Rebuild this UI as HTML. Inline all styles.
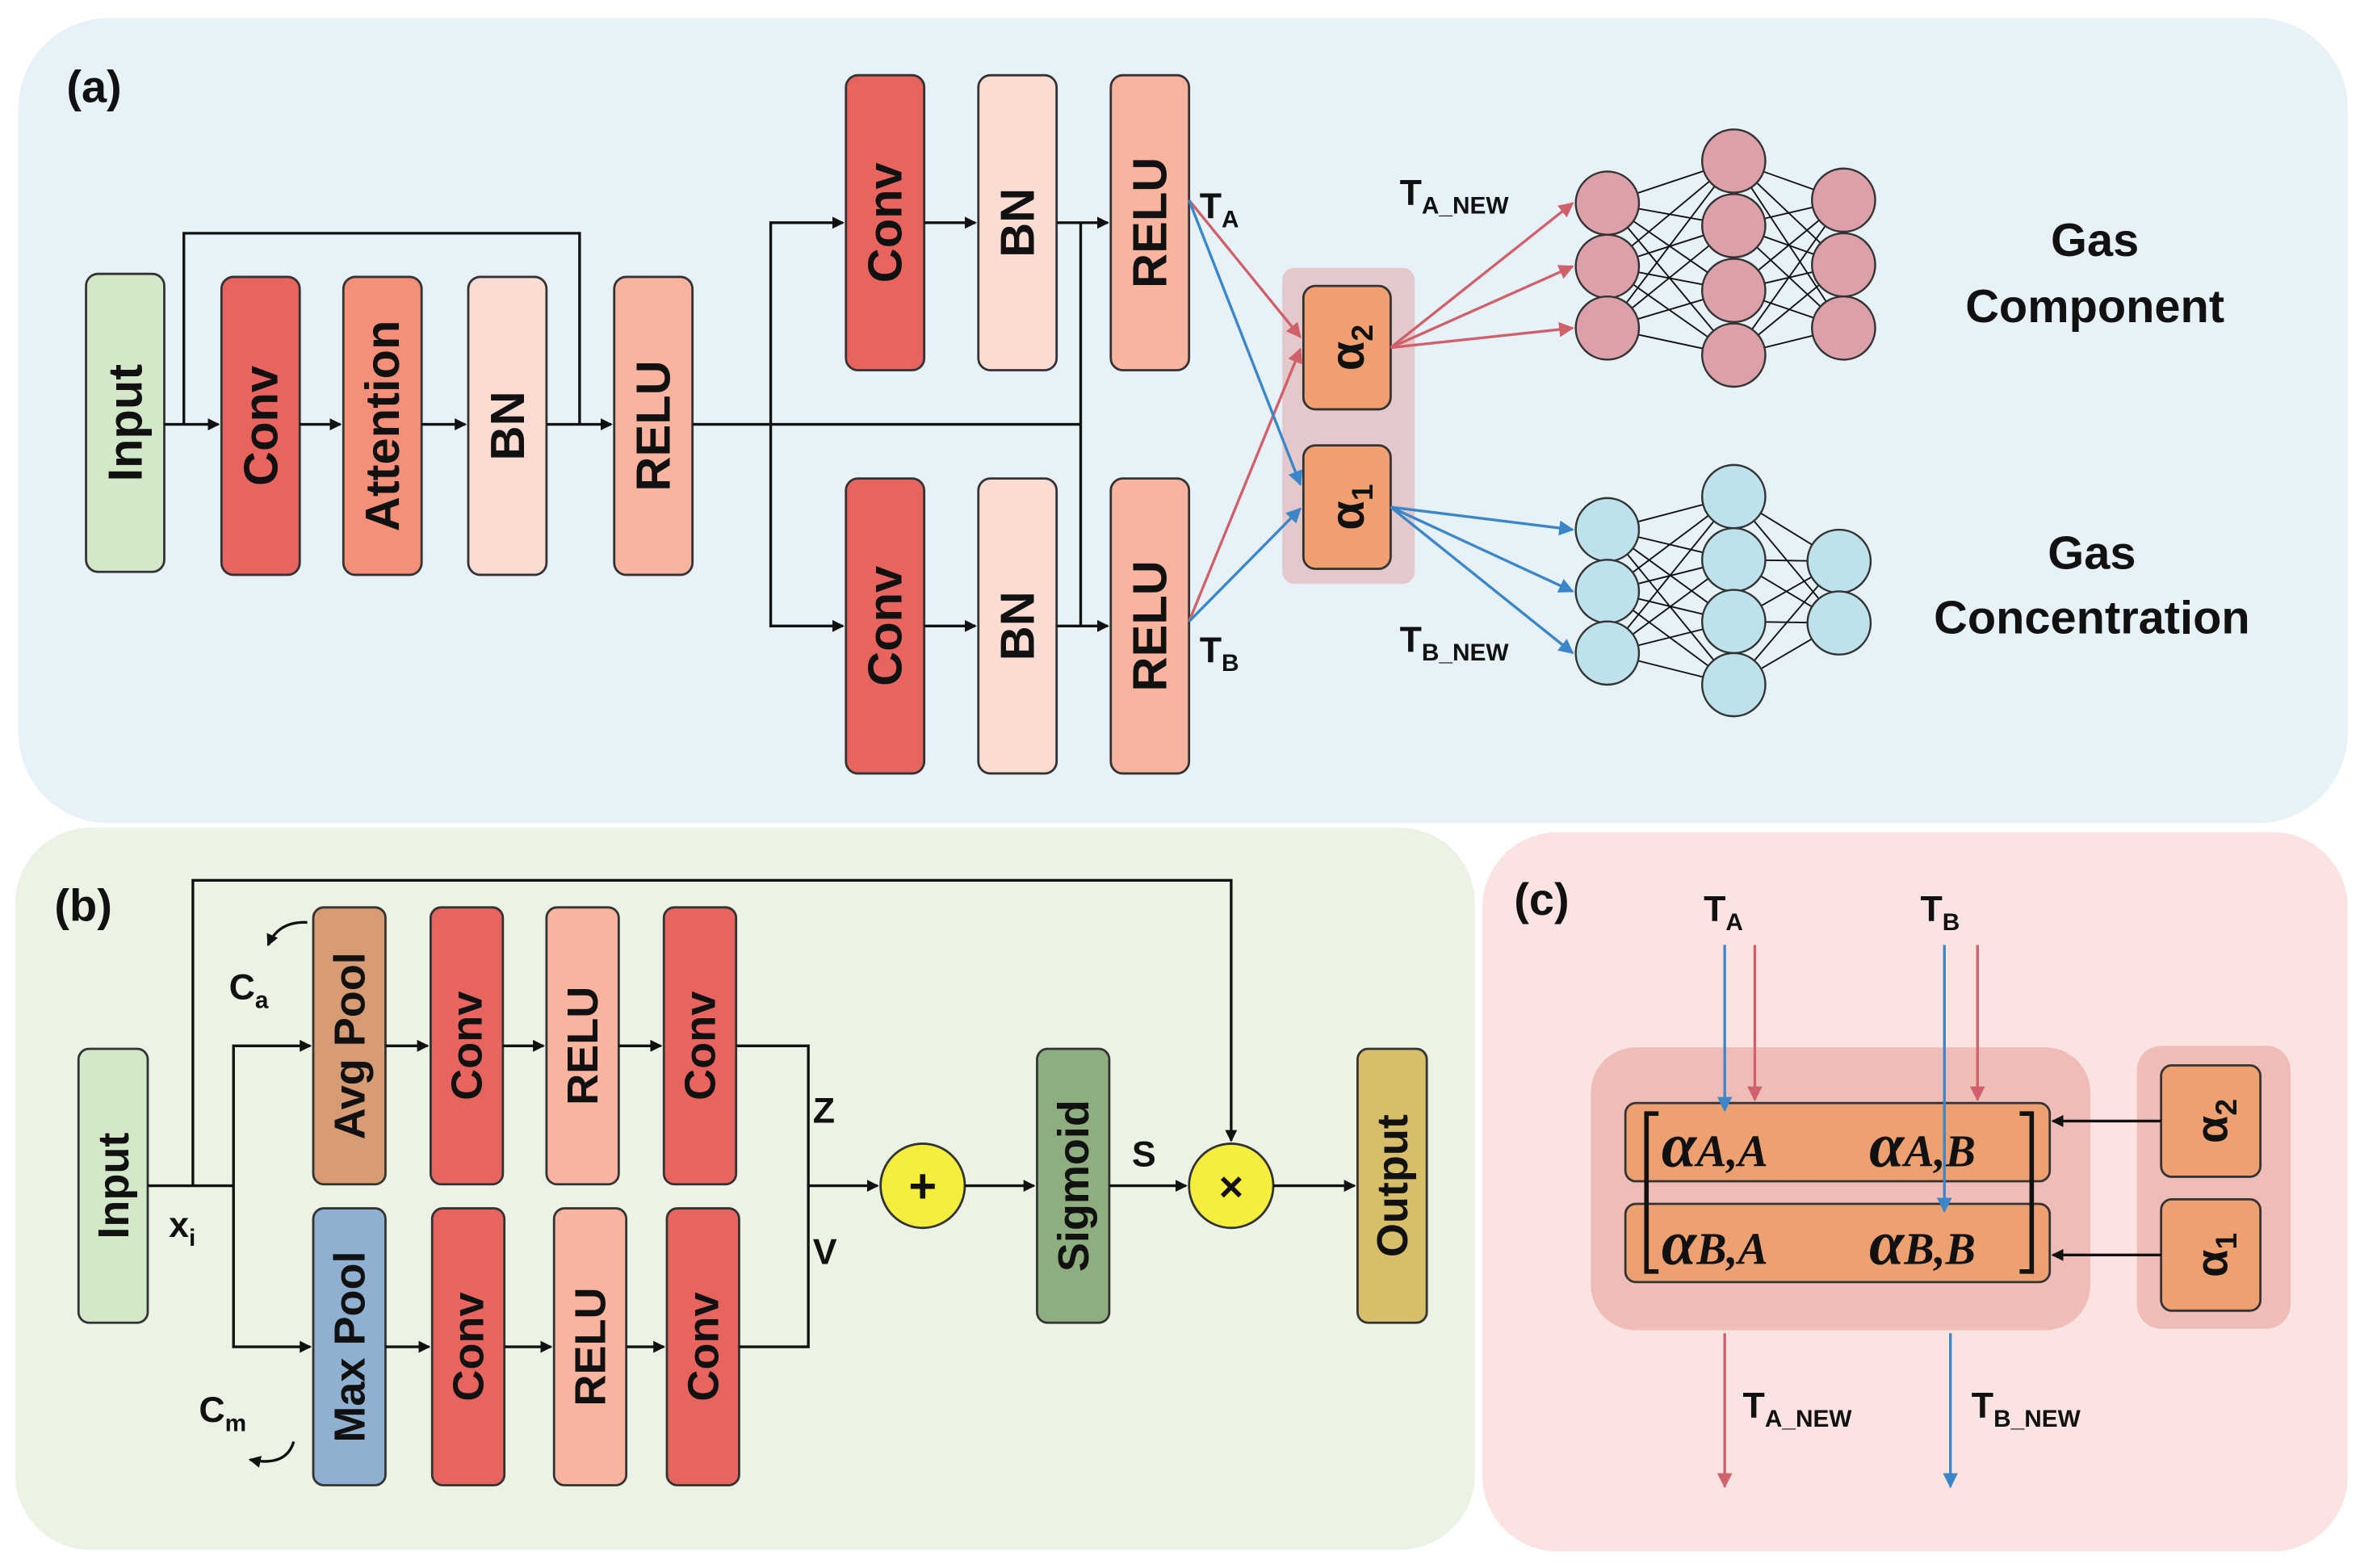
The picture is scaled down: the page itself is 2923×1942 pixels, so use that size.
<!DOCTYPE html>
<html><head><meta charset="utf-8"><style>html,body{margin:0;padding:0;background:#fff}svg{display:block}</style></head>
<body>
<svg width="2923" height="1942" viewBox="0 0 1568 1042" xmlns="http://www.w3.org/2000/svg" font-family="Liberation Sans, sans-serif">
<defs>
<marker id="ak" markerWidth="8" markerHeight="8" refX="7" refY="4" orient="auto" markerUnits="userSpaceOnUse"><path d="M0,0 L8,4 L0,8 z" fill="#111"/></marker>
<marker id="ar" markerWidth="10" markerHeight="10" refX="9" refY="5" orient="auto" markerUnits="userSpaceOnUse"><path d="M0,0 L10,5 L0,10 z" fill="#d0606a"/></marker>
<marker id="ab" markerWidth="10" markerHeight="10" refX="9" refY="5" orient="auto" markerUnits="userSpaceOnUse"><path d="M0,0 L10,5 L0,10 z" fill="#3a86c8"/></marker>
</defs>
<rect x="12" y="12" width="1548" height="535" rx="60" fill="#e6f1f8"/>
<rect x="10" y="550" width="970" height="480" rx="50" fill="#edf3e4"/>
<rect x="985" y="553" width="575" height="478" rx="50" fill="#fbe3e1"/>
<g font-weight="bold" font-size="30" fill="#111">
<text x="44" y="68">(a)</text><text x="36" y="612">(b)</text><text x="1006" y="608">(c)</text>
</g>
<g stroke="#333" stroke-width="1.5">
<rect x="57" y="182" width="52" height="198" rx="8" fill="#d3e7c9"/>
<rect x="147" y="184" width="52" height="198" rx="8" fill="#e8645f"/>
<rect x="228" y="184" width="52" height="198" rx="8" fill="#f4907a"/>
<rect x="311" y="184" width="52" height="198" rx="8" fill="#fbdcd2"/>
<rect x="408" y="184" width="52" height="198" rx="8" fill="#f9b4a0"/>
<rect x="562" y="50" width="52" height="196" rx="8" fill="#e8645f"/>
<rect x="650" y="50" width="52" height="196" rx="8" fill="#fbdcd2"/>
<rect x="738" y="50" width="52" height="196" rx="8" fill="#f9b4a0"/>
<rect x="562" y="318" width="52" height="196" rx="8" fill="#e8645f"/>
<rect x="650" y="318" width="52" height="196" rx="8" fill="#fbdcd2"/>
<rect x="738" y="318" width="52" height="196" rx="8" fill="#f9b4a0"/>
</g>
<rect x="852" y="178" width="88" height="210" rx="8" fill="#e3c9cb"/>
<rect x="866" y="190" width="58" height="82" rx="8" fill="#f0a070" stroke="#333" stroke-width="1.5"/>
<rect x="866" y="296" width="58" height="82" rx="8" fill="#f0a070" stroke="#333" stroke-width="1.5"/>
<g font-weight="bold" font-size="32" fill="#111" text-anchor="middle">
<text transform="translate(94,281) rotate(-90)">Input</text>
<text transform="translate(184,283) rotate(-90)">Conv</text>
<text transform="translate(265,283) rotate(-90)">Attention</text>
<text transform="translate(348,283) rotate(-90)">BN</text>
<text transform="translate(445,283) rotate(-90)">RELU</text>
<text transform="translate(599,148) rotate(-90)">Conv</text>
<text transform="translate(687,148) rotate(-90)">BN</text>
<text transform="translate(775,148) rotate(-90)">RELU</text>
<text transform="translate(599,416) rotate(-90)">Conv</text>
<text transform="translate(687,416) rotate(-90)">BN</text>
<text transform="translate(775,416) rotate(-90)">RELU</text>
<text transform="translate(906,231) rotate(-90)">α<tspan font-size="20" dy="6">2</tspan></text>
<text transform="translate(906,337) rotate(-90)">α<tspan font-size="20" dy="6">1</tspan></text>
</g>
<g stroke="#111" stroke-width="1.8" fill="none">
<line x1="109" y1="282" x2="145" y2="282" marker-end="url(#ak)"/>
<line x1="199" y1="282" x2="226" y2="282" marker-end="url(#ak)"/>
<line x1="280" y1="282" x2="309" y2="282" marker-end="url(#ak)"/>
<line x1="363" y1="282" x2="406" y2="282" marker-end="url(#ak)"/>
<polyline points="122,282 122,155 385,155 385,282"/>
<line x1="460" y1="282" x2="718" y2="282"/>
<polyline points="512,282 512,148 560,148" marker-end="url(#ak)"/>
<polyline points="512,282 512,416 560,416" marker-end="url(#ak)"/>
<line x1="614" y1="148" x2="648" y2="148" marker-end="url(#ak)"/>
<line x1="702" y1="148" x2="736" y2="148" marker-end="url(#ak)"/>
<line x1="614" y1="416" x2="648" y2="416" marker-end="url(#ak)"/>
<line x1="702" y1="416" x2="736" y2="416" marker-end="url(#ak)"/>
<polyline points="718,282 718,148"/><polyline points="718,282 718,416"/>
</g>
<g stroke-width="1.8" fill="none">
<line x1="790" y1="133" x2="864" y2="224" stroke="#d0606a" marker-end="url(#ar)"/>
<line x1="790" y1="413" x2="864" y2="232" stroke="#d0606a" marker-end="url(#ar)"/>
<line x1="790" y1="133" x2="864" y2="322" stroke="#3a86c8" marker-end="url(#ab)"/>
<line x1="790" y1="413" x2="864" y2="338" stroke="#3a86c8" marker-end="url(#ab)"/>
<line x1="924" y1="231" x2="1045" y2="135" stroke="#d0606a" marker-end="url(#ar)"/>
<line x1="924" y1="231" x2="1045" y2="177" stroke="#d0606a" marker-end="url(#ar)"/>
<line x1="924" y1="231" x2="1045" y2="218" stroke="#d0606a" marker-end="url(#ar)"/>
<line x1="924" y1="337" x2="1045" y2="352" stroke="#3a86c8" marker-end="url(#ab)"/>
<line x1="924" y1="337" x2="1045" y2="393" stroke="#3a86c8" marker-end="url(#ab)"/>
<line x1="924" y1="337" x2="1045" y2="434" stroke="#3a86c8" marker-end="url(#ab)"/>
</g>
<g font-weight="bold" font-size="24" fill="#111">
<text x="797" y="145">T<tspan font-size="16" dy="6">A</tspan></text>
<text x="797" y="440">T<tspan font-size="16" dy="6">B</tspan></text>
<text x="930" y="136">T<tspan font-size="16" dy="6">A_NEW</tspan></text>
<text x="930" y="433">T<tspan font-size="16" dy="6">B_NEW</tspan></text>
</g>
<g stroke="#111" stroke-width="1">
<path d="M1068,135L1152,107M1068,135L1152,150M1068,135L1152,193M1068,135L1152,236M1068,177L1152,107M1068,177L1152,150M1068,177L1152,193M1068,177L1152,236M1068,218L1152,107M1068,218L1152,150M1068,218L1152,193M1068,218L1152,236M1152,107L1225,133M1152,107L1225,176M1152,107L1225,218M1152,150L1225,133M1152,150L1225,176M1152,150L1225,218M1152,193L1225,133M1152,193L1225,176M1152,193L1225,218M1152,236L1225,133M1152,236L1225,176M1152,236L1225,218"/>
<path d="M1068,352L1152,330M1068,352L1152,372M1068,352L1152,413M1068,352L1152,455M1068,393L1152,330M1068,393L1152,372M1068,393L1152,413M1068,393L1152,455M1068,434L1152,330M1068,434L1152,372M1068,434L1152,413M1068,434L1152,455M1152,330L1222,373M1152,330L1222,414M1152,372L1222,373M1152,372L1222,414M1152,413L1222,373M1152,413L1222,414M1152,455L1222,373M1152,455L1222,414"/>
</g>
<g fill="#dba0a8" stroke="#333" stroke-width="1.3">
<circle cx="1068" cy="135" r="21"/><circle cx="1068" cy="177" r="21"/><circle cx="1068" cy="218" r="21"/>
<circle cx="1152" cy="107" r="21"/><circle cx="1152" cy="150" r="21"/><circle cx="1152" cy="193" r="21"/><circle cx="1152" cy="236" r="21"/>
<circle cx="1225" cy="133" r="21"/><circle cx="1225" cy="176" r="21"/><circle cx="1225" cy="218" r="21"/>
</g>
<g fill="#bde2ec" stroke="#333" stroke-width="1.3">
<circle cx="1068" cy="352" r="21"/><circle cx="1068" cy="393" r="21"/><circle cx="1068" cy="434" r="21"/>
<circle cx="1152" cy="330" r="21"/><circle cx="1152" cy="372" r="21"/><circle cx="1152" cy="413" r="21"/><circle cx="1152" cy="455" r="21"/>
<circle cx="1222" cy="373" r="21"/><circle cx="1222" cy="414" r="21"/>
</g>
<g font-weight="bold" font-size="31" fill="#111" text-anchor="middle">
<text x="1392" y="170">Gas</text><text x="1392" y="214">Component</text>
<text x="1390" y="378">Gas</text><text x="1390" y="421">Concentration</text>
</g>
<g stroke="#333" stroke-width="1.5">
<rect x="52" y="697" width="46" height="182" rx="7" fill="#d3e7c9"/>
<rect x="208" y="603" width="48" height="184" rx="7" fill="#d79c74"/>
<rect x="286" y="603" width="48" height="184" rx="7" fill="#e8645f"/>
<rect x="363" y="603" width="48" height="184" rx="7" fill="#f9b4a0"/>
<rect x="441" y="603" width="48" height="184" rx="7" fill="#e8645f"/>
<rect x="208" y="803" width="48" height="184" rx="7" fill="#8fb0d0"/>
<rect x="287" y="803" width="48" height="184" rx="7" fill="#e8645f"/>
<rect x="368" y="803" width="48" height="184" rx="7" fill="#f9b4a0"/>
<rect x="443" y="803" width="48" height="184" rx="7" fill="#e8645f"/>
<rect x="689" y="697" width="48" height="182" rx="7" fill="#8fae7f"/>
<rect x="902" y="697" width="46" height="182" rx="7" fill="#d6be6a"/>
<circle cx="613" cy="788" r="28" fill="#f5ee3c"/>
<circle cx="818" cy="788" r="28" fill="#f5ee3c"/>
</g>
<g font-weight="bold" font-size="29" fill="#111" text-anchor="middle">
<text transform="translate(85,788) rotate(-90)">Input</text>
<text transform="translate(242,695) rotate(-90)">Avg Pool</text>
<text transform="translate(320,695) rotate(-90)">Conv</text>
<text transform="translate(397,695) rotate(-90)">RELU</text>
<text transform="translate(475,695) rotate(-90)">Conv</text>
<text transform="translate(242,895) rotate(-90)">Max Pool</text>
<text transform="translate(321,895) rotate(-90)">Conv</text>
<text transform="translate(402,895) rotate(-90)">RELU</text>
<text transform="translate(477,895) rotate(-90)">Conv</text>
<text transform="translate(723,788) rotate(-90)">Sigmoid</text>
<text transform="translate(935,788) rotate(-90)">Output</text>
<text x="613" y="799" font-size="32">+</text>
<text x="818" y="798" font-size="28">×</text>
</g>
<g stroke="#111" stroke-width="1.8" fill="none">
<line x1="98" y1="788" x2="155" y2="788"/>
<polyline points="128,788 128,585 818,585 818,758" marker-end="url(#ak)"/>
<polyline points="155,788 155,695 206,695" marker-end="url(#ak)"/>
<polyline points="155,788 155,895 206,895" marker-end="url(#ak)"/>
<line x1="256" y1="695" x2="284" y2="695" marker-end="url(#ak)"/>
<line x1="334" y1="695" x2="361" y2="695" marker-end="url(#ak)"/>
<line x1="411" y1="695" x2="439" y2="695" marker-end="url(#ak)"/>
<line x1="256" y1="895" x2="285" y2="895" marker-end="url(#ak)"/>
<line x1="335" y1="895" x2="366" y2="895" marker-end="url(#ak)"/>
<line x1="416" y1="895" x2="441" y2="895" marker-end="url(#ak)"/>
<polyline points="489,695 537,695 537,895 491,895"/>
<line x1="537" y1="788" x2="583" y2="788" marker-end="url(#ak)"/>
<line x1="641" y1="788" x2="687" y2="788" marker-end="url(#ak)"/>
<line x1="737" y1="788" x2="788" y2="788" marker-end="url(#ak)"/>
<line x1="846" y1="788" x2="900" y2="788" marker-end="url(#ak)"/>
<path d="M204,613 Q185,612 178,628" marker-end="url(#ak)"/>
<path d="M195,958 Q190,975 166,970" marker-end="url(#ak)"/>
</g>
<g font-weight="bold" font-size="24" fill="#111">
<text x="112" y="822">x<tspan font-size="16" dy="6">i</tspan></text>
<text x="152" y="664">C<tspan font-size="16" dy="6">a</tspan></text>
<text x="132" y="945">C<tspan font-size="16" dy="6">m</tspan></text>
<text x="540" y="746">Z</text><text x="540" y="840">V</text><text x="752" y="775">S</text>
</g>
<rect x="1057" y="696" width="332" height="188" rx="30" fill="#f0bcb8"/>
<rect x="1420" y="695" width="102" height="188" rx="16" fill="#f0bcb8"/>
<g stroke="#333" stroke-width="1.5">
<rect x="1080" y="733" width="282" height="52" rx="7" fill="#eda070"/>
<rect x="1080" y="800" width="282" height="52" rx="7" fill="#eda070"/>
<rect x="1436" y="708" width="66" height="74" rx="7" fill="#eda070"/>
<rect x="1436" y="797" width="66" height="74" rx="7" fill="#eda070"/>
</g>
<g stroke="#111" stroke-width="3" fill="none">
<path d="M1102,740 L1094,740 L1094,845 L1102,845"/>
<path d="M1342,740 L1350,740 L1350,845 L1342,845"/>
</g>
<g font-family="Liberation Serif, serif" font-weight="bold" font-style="italic" font-size="42" fill="#111">
<text x="1104" y="775">α<tspan font-size="30">A,A</tspan></text>
<text x="1242" y="775">α<tspan font-size="30">A,B</tspan></text>
<text x="1104" y="840">α<tspan font-size="30">B,A</tspan></text>
<text x="1242" y="840">α<tspan font-size="30">B,B</tspan></text>
</g>
<g font-weight="bold" font-size="30" fill="#111" text-anchor="middle">
<text transform="translate(1480,745) rotate(-90)">α<tspan font-size="20" dy="6">2</tspan></text>
<text transform="translate(1480,834) rotate(-90)">α<tspan font-size="20" dy="6">1</tspan></text>
</g>
<g stroke-width="1.8" fill="none">
<line x1="1146" y1="628" x2="1146" y2="738" stroke="#3a86c8" marker-end="url(#ab)"/>
<line x1="1166" y1="628" x2="1166" y2="731" stroke="#d0606a" marker-end="url(#ar)"/>
<line x1="1292" y1="628" x2="1292" y2="805" stroke="#3a86c8" marker-end="url(#ab)"/>
<line x1="1314" y1="628" x2="1314" y2="731" stroke="#d0606a" marker-end="url(#ar)"/>
<line x1="1146" y1="886" x2="1146" y2="988" stroke="#d0606a" marker-end="url(#ar)"/>
<line x1="1296" y1="886" x2="1296" y2="988" stroke="#3a86c8" marker-end="url(#ab)"/>
<line x1="1436" y1="745" x2="1364" y2="745" stroke="#111" marker-end="url(#ak)"/>
<line x1="1436" y1="834" x2="1364" y2="834" stroke="#111" marker-end="url(#ak)"/>
</g>
<g font-weight="bold" font-size="24" fill="#111">
<text x="1132" y="612">T<tspan font-size="16" dy="6">A</tspan></text>
<text x="1276" y="612">T<tspan font-size="16" dy="6">B</tspan></text>
<text x="1158" y="942">T<tspan font-size="16" dy="6">A_NEW</tspan></text>
<text x="1310" y="942">T<tspan font-size="16" dy="6">B_NEW</tspan></text>
</g>
</svg>
</body></html>
